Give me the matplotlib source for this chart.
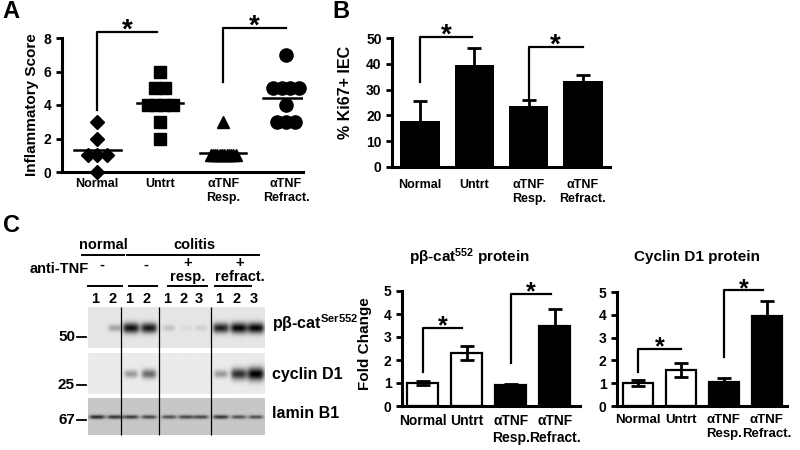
import numpy as np
import matplotlib
matplotlib.use('Agg')
import matplotlib.pyplot as plt

plt.rcParams['font.family'] = ['Liberation Sans', 'DejaVu Sans']
plt.rcParams['font.weight'] = 'bold'
plt.rcParams['mathtext.fontset'] = 'custom'
plt.rcParams['mathtext.rm'] = 'Liberation Sans:bold'
plt.rcParams['mathtext.bf'] = 'Liberation Sans:bold'
plt.rcParams['mathtext.it'] = 'Liberation Sans:bold'

groups = ['Normal', 'Untrt', 'αTNF\nResp.', 'αTNF\nRefract.']

# A - inflammatory score per mouse
score_normal = [3, 2, 1, 1, 1, 0]
score_untrt = [6, 5, 5, 4, 4, 4, 4, 3, 2]
score_resp = [3, 1, 1, 1, 1, 1, 1, 1, 1, 1, 1, 1, 1]
score_refract = [7, 5, 5, 5, 5, 4, 3, 3, 3]

# B - % Ki67+ IEC
ki67_mean = [18, 39.5, 23.5, 33.3]
ki67_err = [7.5, 6.5, 2.5, 2.5]

# C - western blot band strength per lane
lane_names = ['1', '2', '1', '2', '1', '2', '3', '1', '2', '3']
pbcat_band = [0.0, 0.3, 0.92, 0.88, 0.15, 0.05, 0.1, 0.85, 0.97, 0.97]
cyclin_band = [0.0, 0.0, 0.35, 0.55, 0.0, 0.0, 0.0, 0.35, 0.8, 1.0]
lamin_band = [0.8, 0.75, 0.7, 0.65, 0.6, 0.65, 0.65, 0.75, 0.6, 0.6]

# C - quantification (fold change)
pbcat_fold = [1.0, 2.3, 0.92, 3.5]
pbcat_err = [0.08, 0.3, 0.04, 0.72]
cyclin_fold = [1.0, 1.58, 1.06, 3.94]
cyclin_err = [0.13, 0.29, 0.17, 0.65]

W, H = 800, 450
fig = plt.figure(figsize=(8, 4.5), dpi=100)

ov = fig.add_axes([0, 0, 1, 1])
ov.set_xlim(0, W)
ov.set_ylim(H, 0)
ov.axis('off')


def px_axes(x0, y0, x1, y1):
    ax = fig.add_axes([x0 / W, 1 - y1 / H, (x1 - x0) / W, (y1 - y0) / H])
    ax.set_facecolor('none')
    for s in ['top', 'right']:
        ax.spines[s].set_visible(False)
    for s in ['left', 'bottom']:
        ax.spines[s].set_linewidth(2.2)
    ax.tick_params(axis='y', width=2, length=4, labelsize=10)
    ax.tick_params(axis='x', length=0, labelsize=9)
    return ax


def bracket(ax, i, j, low, top, star_off=-4, fs=20):
    ax.plot([i, i, j], [low, top, top], color='black', lw=1.6, clip_on=False)
    ax.annotate('*', xy=((i + j) / 2, top), xytext=(0, star_off),
                textcoords='offset points', ha='center', va='baseline',
                fontsize=fs, annotation_clip=False)


def swarm(vals, step_max=0.15, span=0.4):
    vals = np.asarray(vals, dtype=float)
    offs = np.zeros(len(vals))
    for v in np.unique(vals):
        idx = np.where(vals == v)[0]
        n = len(idx)
        if n > 1:
            step = min(step_max, span / (n - 1))
            offs[idx] = (np.arange(n) - (n - 1) / 2) * step
    return offs


# ---------- A ----------
axA = px_axes(62, 38, 303, 172)
scores = [score_normal, score_untrt, score_resp, score_refract]
marks = [('D', 7.5), ('s', 8.5), ('^', 9), ('o', 9.5)]
for k, (vals, (m, ms)) in enumerate(zip(scores, marks)):
    axA.plot(k + swarm(vals), vals, ls='none', marker=m, ms=ms,
             color='black', clip_on=False)
    mu = np.mean(vals)
    axA.plot([k - 0.37, k + 0.37], [mu, mu], color='black', lw=1.8)
axA.set_xlim(-0.56, 3.27)
axA.set_ylim(0, 8)
axA.set_yticks([0, 2, 4, 6, 8])
axA.set_xticks(range(4))
axA.set_xticklabels(groups)
axA.tick_params(axis='x', pad=4.5)
bracket(axA, 0, 0.95, 3.7, 8.36)
bracket(axA, 2, 3, 5.37, 8.6)

# ---------- B ----------
axB = px_axes(392, 38, 610, 167)
x = np.arange(4)
axB.bar(x, ki67_mean, width=0.73, color='black')
axB.errorbar(x, ki67_mean, yerr=ki67_err, fmt='none', ecolor='black',
             elinewidth=2, capsize=5, capthick=2)
axB.set_xlim(-0.52, 3.5)
axB.set_ylim(0, 50)
axB.set_yticks(range(0, 51, 10))
axB.set_xticks(x)
axB.set_xticklabels(groups)
axB.tick_params(axis='x', pad=8.5)
bracket(axB, 0, 0.95, 33, 50.5)
bracket(axB, 2, 3, 26, 46.5)

# ---------- C quantification ----------
fill = ['white', 'white', 'black', 'black']
for box, vals, errs, xl, title, tx, fs in [
        ((402, 291, 580, 406), pbcat_fold, pbcat_err, (-0.47, 3.57),
         r'pβ-cat$^{\mathrm{552}}$ protein', 470, 10),
        ((617, 292, 787, 406), cyclin_fold, cyclin_err, (-0.49, 3.47),
         'Cyclin D1 protein', 697, 9.5)]:
    ax = px_axes(*box)
    ax.bar(x, vals, width=0.7, color=fill, edgecolor='black', linewidth=1.6)
    ax.errorbar(x, vals, yerr=errs, fmt='none', ecolor='black',
                elinewidth=2, capsize=5, capthick=2)
    ax.set_xlim(*xl)
    ax.set_ylim(0, 5)
    ax.set_yticks(range(6))
    ax.set_xticks(x)
    ax.set_xticklabels(groups)
    ax.tick_params(axis='x', pad=6, labelsize=fs)
    ov.text(tx, 257, title, ha='center', va='center', fontsize=11)
    if vals is pbcat_fold:
        bracket(ax, 0, 0.9, 1.48, 3.39, fs=18)
        bracket(ax, 2, 2.92, 1.87, 4.87, fs=18)
    else:
        bracket(ax, 0, 1, 1.5, 2.52, fs=18)
        bracket(ax, 2, 2.92, 2.16, 5.07, fs=18)

# ---------- C blot ----------
lane_x = [97, 115, 131, 149, 169, 186, 201, 221, 239, 256]
bx0, bx1 = 88, 265


def strip(intens, top, bot, band_y, bg, thick, spread):
    xs = np.linspace(bx0, bx1, 530)
    ys = np.linspace(top, bot, 3 * (bot - top))
    X, Y = np.meshgrid(xs, ys)
    dark = np.zeros_like(X)
    for cx, a in zip(lane_x, intens):
        wx = 6 + 2.5 * a
        wy = thick + spread * a
        dark += a * np.exp(-np.abs((X - cx) / wx) ** 4) * np.exp(-((Y - band_y) / wy) ** 2)
    img = bg * (1 - np.clip(dark, 0, 1))
    ov.imshow(img, cmap='gray', vmin=0, vmax=1, extent=(bx0, bx1, bot, top),
              aspect='auto', interpolation='bilinear')


strip(pbcat_band, 307, 348, 328, 0.9, 2.5, 3.0)
strip(cyclin_band, 353, 394, 374, 0.92, 2.5, 4.0)
strip(lamin_band, 398, 435, 417, 0.78, 1.6, 0.5)
ov.set_xlim(0, W)
ov.set_ylim(H, 0)
ov.vlines([121, 159, 211], 307, 435, color='black', lw=0.9)

for xc, name in zip(lane_x, lane_names):
    ov.text(xc - 2, 299, name, ha='center', va='center', fontsize=10.5)
ov.text(103, 245, 'normal', ha='center', va='center', fontsize=10.5)
ov.text(194, 245, 'colitis', ha='center', va='center', fontsize=10.5)
ov.plot([82, 124], [255, 255], color='black', lw=1.4)
ov.plot([127, 259], [255, 255], color='black', lw=1.4)
ov.text(30, 269, 'anti-TNF', ha='left', va='center', fontsize=10.5)
ov.text(102, 265, '-', ha='center', va='center', fontsize=10.5)
ov.text(146, 265, '-', ha='center', va='center', fontsize=10.5)
ov.text(188, 263, '+', ha='center', va='center', fontsize=10.5)
ov.text(240, 263, '+', ha='center', va='center', fontsize=10.5)
ov.text(188, 277, 'resp.', ha='center', va='center', fontsize=10.5)
ov.text(240, 277, 'refract.', ha='center', va='center', fontsize=10.5)
for a, b in [(88, 122), (129, 157), (168, 207), (215, 251)]:
    ov.plot([a, b], [286, 286], color='black', lw=1.4)

for yy, kd in [(337, '50'), (385, '25'), (420, '67')]:
    ov.text(75, yy, kd, ha='right', va='center', fontsize=11)
    ov.plot([77, 86], [yy, yy], color='black', lw=1.3)

ov.text(272, 323, r'pβ-cat$^{\mathrm{Ser552}}$', ha='left', va='center', fontsize=11.5)
ov.text(272, 374, 'cyclin D1', ha='left', va='center', fontsize=11.5)
ov.text(272, 413, 'lamin B1', ha='left', va='center', fontsize=11.5)

# axis titles and panel letters
ov.text(32, 105, 'Inflammatory Score', rotation=90, ha='center', va='center', fontsize=11)
ov.text(346, 92, '% Ki67+ IEC', rotation=90, ha='center', va='center', fontsize=11.5)
ov.text(365, 344, 'Fold Change', rotation=90, ha='center', va='center', fontsize=11)
ov.text(2, 18, 'A', ha='left', va='baseline', fontsize=17)
ov.text(332, 18, 'B', ha='left', va='baseline', fontsize=17)
ov.text(3, 232, 'C', ha='left', va='baseline', fontsize=17)

fig.savefig('out.png', dpi=100)
